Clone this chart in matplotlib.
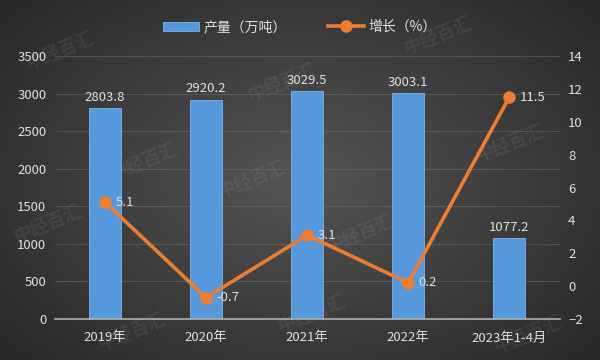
import matplotlib.pyplot as plt
import numpy as np

plt.rcParams['font.family'] = ['Noto Sans CJK SC', 'DejaVu Sans']

years = ['2019年', '2020年', '2021年', '2022年', '2023年1-4月']
output = [2803.8, 2920.2, 3029.5, 3003.1, 1077.2]  # 产量（万吨）
growth = [5.1, -0.7, 3.1, 0.2, 11.5]  # 增长（%）

txt = '#e0e0e0'

fig = plt.figure(figsize=(6, 3.6), dpi=100)

# background: dark radial gradient
bg = fig.add_axes([0, 0, 1, 1])
yy, xx = np.mgrid[-1:1:200j, -1:1:300j]
r = np.sqrt(xx**2 + (yy * 0.9)**2)
shade = 0.33 - 0.13 * r
bg.imshow(shade, cmap='gray', vmin=0, vmax=1, aspect='auto', extent=[0, 1, 0, 1])
bg.set_xlim(0, 1)
bg.set_ylim(0, 1)
bg.axis('off')

# watermarks
for wx, wy in [(0.1, 0.86), (0.73, 0.9), (0.24, 0.55), (0.08, 0.38), (0.47, 0.77),
               (0.6, 0.35), (0.52, 0.13), (0.22, 0.08), (0.88, 0.07), (0.42, 0.5), (0.85, 0.6)]:
    bg.text(wx, wy, '中经百汇', rotation=22, fontsize=13, color='white', alpha=0.07,
            ha='center', va='center', fontweight='bold')

ax = fig.add_axes([0.091, 0.114, 0.842, 0.73])
ax.patch.set_alpha(0)
x = np.arange(len(years))
ax.bar(x, output, width=0.32, color='#5599dc', edgecolor='#80b4e8', linewidth=0.6,
       label='产量（万吨）', zorder=2)
for xi, v in zip(x, output):
    ax.text(xi, v + 60, f'{v}', ha='center', va='bottom', color=txt, fontsize=9.5)

ax.set_ylim(0, 3500)
ax.set_yticks(np.arange(0, 3501, 500))
ax.set_xlim(-0.5, len(years) - 0.5)
ax.set_xticks(x)
ax.set_xticklabels(years)
ax.grid(axis='y', color='#707070', linewidth=0.6, alpha=0.6, zorder=0)
ax.set_axisbelow(True)
for s in ['top', 'right', 'left']:
    ax.spines[s].set_visible(False)
ax.spines['bottom'].set_color('#b0b0b0')
ax.spines['bottom'].set_linewidth(1.2)
ax.tick_params(length=0, colors=txt, labelsize=9.5, pad=6)
ax.tick_params(axis='x', pad=9)

ax2 = ax.twinx()
ax2.plot(x, growth, color='#ed7d31', linewidth=2.6, marker='o', markersize=8,
         label='增长（%）', zorder=3)
for xi, v in zip(x, growth):
    ax2.text(xi + 0.1, v, f'{v}', ha='left', va='center', color=txt, fontsize=9.5)
ax2.set_ylim(-2, 14)
ax2.set_yticks(np.arange(-2, 15, 2))
for s in ax2.spines.values():
    s.set_visible(False)
ax2.tick_params(length=0, colors=txt, labelsize=9.5, pad=6)

h1, l1 = ax.get_legend_handles_labels()
h2, l2 = ax2.get_legend_handles_labels()
fig.legend(h1 + h2, l1 + l2, loc='center', bbox_to_anchor=(0.5, 0.925), ncol=2,
           frameon=False, fontsize=10, labelcolor=txt, handlelength=2.6, columnspacing=3,
           handleheight=0.6, handletextpad=0.3)

fig.savefig('out.png', dpi=100)
